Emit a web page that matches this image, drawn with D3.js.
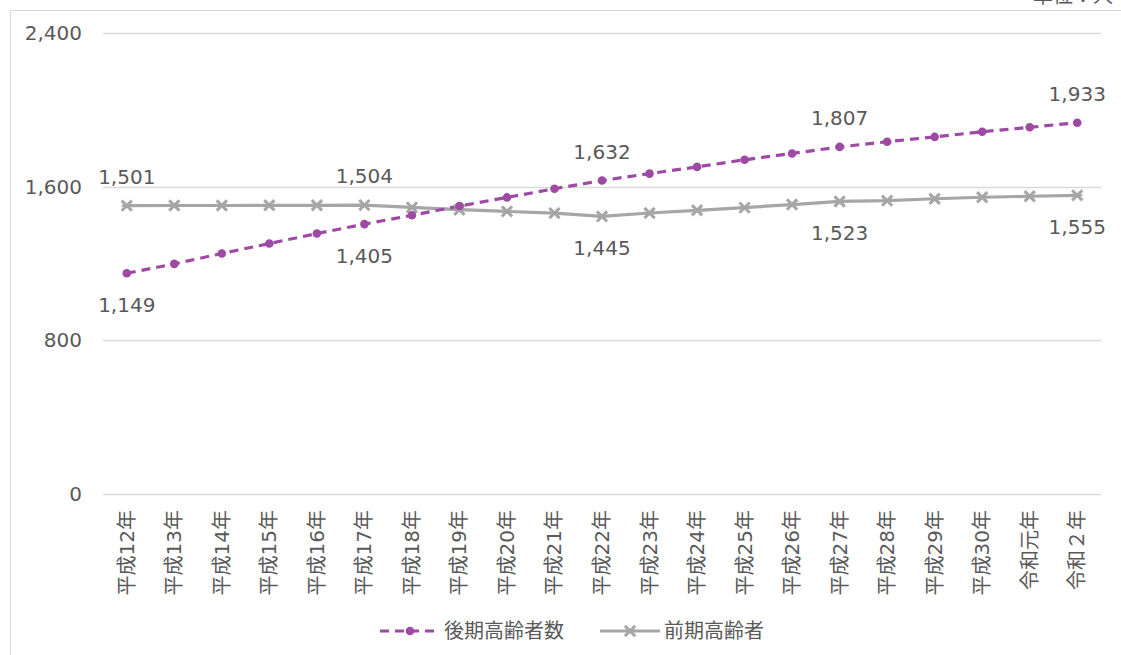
<!DOCTYPE html>
<html lang="ja">
<head>
<meta charset="utf-8">
<script src="https://cdn.jsdelivr.net/npm/d3@7"></script>
<style>
  html, body { margin: 0; padding: 0; background: #fff; }
  svg { display: block; font-family: "DejaVu Sans", "Noto Sans CJK JP", sans-serif; }
</style>
</head>
<body>
<svg id="chart" width="1121" height="655"></svg>
<script>
// 年度区分
const categories = ["平成12年","平成13年","平成14年","平成15年","平成16年","平成17年","平成18年",
  "平成19年","平成20年","平成21年","平成22年","平成23年","平成24年","平成25年","平成26年",
  "平成27年","平成28年","平成29年","平成30年","令和元年","令和２年"];

// 後期高齢者数（人）
const lateElderly = [1149, 1198, 1252, 1304, 1356, 1405, 1451, 1499, 1544, 1589, 1632,
  1668, 1703, 1740, 1773, 1807, 1834, 1859, 1886, 1909, 1933];

// 前期高齢者（人）
const earlyElderly = [1501, 1502, 1502, 1503, 1503, 1504, 1492, 1480, 1471, 1462, 1445,
  1463, 1477, 1491, 1507, 1523, 1527, 1537, 1545, 1550, 1555];

// 値ラベルを表示する位置
const labelIndex = [0, 5, 10, 15, 20];

const yTicks = [0, 800, 1600, 2400];
const seriesNames = ["後期高齢者数", "前期高齢者"];

const svg = d3.select("#chart");
const W = 1121, H = 655;
const plot = { left: 103, right: 1101, top: 33, bottom: 494 };

const textColor = "#595959";
const gridColor = "#d9d9d9";
const purple = "#9e4aa5";
const gray = "#a6a6a6";

// 外枠
svg.append("path")
  .attr("d", `M10.5,${H} V10.5 H${W}`)
  .attr("fill", "none").attr("stroke", gridColor).attr("stroke-width", 1);

// 単位
svg.append("text")
  .attr("x", 1113).attr("y", 3)
  .attr("text-anchor", "end")
  .attr("font-size", 20).attr("fill", textColor)
  .text("単位：人");

const x = d3.scaleBand().domain(categories).range([plot.left, plot.right]);
const y = d3.scaleLinear().domain([0, 2400]).range([plot.bottom, plot.top]);
const cx = c => x(c) + x.bandwidth() / 2;

// 目盛線
svg.append("g")
  .selectAll("line").data(yTicks).join("line")
  .attr("x1", plot.left).attr("x2", plot.right)
  .attr("y1", d => Math.round(y(d)) + 0.5).attr("y2", d => Math.round(y(d)) + 0.5)
  .attr("stroke", gridColor).attr("stroke-width", 1.3);

// 縦軸ラベル
const yAxis = d3.axisLeft(y).tickValues(yTicks).tickFormat(d3.format(",")).tickSize(0).tickPadding(0);
const gy = svg.append("g").attr("transform", "translate(82,0)").call(yAxis);
gy.select(".domain").remove();
gy.selectAll("text").attr("font-size", 20).attr("fill", textColor)
  .attr("font-family", "\"DejaVu Sans\", sans-serif");

// 横軸ラベル（縦書き回転）
svg.append("g")
  .selectAll("text").data(categories).join("text")
  .attr("transform", d => `translate(${cx(d)},510) rotate(-90)`)
  .attr("text-anchor", "end")
  .attr("dominant-baseline", "central")
  .attr("font-size", 20).attr("fill", textColor)
  .text(d => d);

// 折れ線
const line = d3.line().x((d, i) => cx(categories[i])).y(d => y(d));

svg.append("path").datum(earlyElderly)
  .attr("d", line).attr("fill", "none")
  .attr("stroke", gray).attr("stroke-width", 3.2).attr("stroke-linejoin", "round");

svg.append("path").datum(lateElderly)
  .attr("d", line).attr("fill", "none")
  .attr("stroke", purple).attr("stroke-width", 3.2)
  .attr("stroke-dasharray", "9,6");

// マーカー
const star = d3.symbol().type(d3.symbolX).size(70);
function starMarker(sel) {
  sel.append("path").attr("d", star()).attr("fill", "none")
    .attr("stroke", gray).attr("stroke-width", 3);
  sel.append("line").attr("x1", -5).attr("x2", 5).attr("y1", 0).attr("y2", 0)
    .attr("stroke", gray).attr("stroke-width", 2.2);
}

svg.append("g").selectAll("g").data(earlyElderly).join("g")
  .attr("transform", (d, i) => `translate(${cx(categories[i])},${y(d)})`)
  .call(starMarker);

svg.append("g").selectAll("circle").data(lateElderly).join("circle")
  .attr("cx", (d, i) => cx(categories[i])).attr("cy", d => y(d))
  .attr("r", 4.3).attr("fill", purple);

// 値ラベル：上側の系列は上、下側の系列は下へ
const fmt = d3.format(",");
const labels = svg.append("g").attr("font-size", 20).attr("fill", textColor)
  .attr("text-anchor", "middle").attr("dominant-baseline", "central")
  .attr("font-family", "\"DejaVu Sans\", sans-serif");
labelIndex.forEach(i => {
  const a = lateElderly[i], b = earlyElderly[i];
  const xi = cx(categories[i]);
  [[a, a >= b], [b, b > a]].forEach(([v, upper]) => {
    labels.append("text")
      .attr("x", xi)
      .attr("y", y(v) + (upper ? -29 : 32))
      .text(fmt(v));
  });
});

// 凡例
const legend = svg.append("g").attr("font-size", 20).attr("fill", textColor);
const lg1 = legend.append("g").attr("transform", "translate(380,631)");
lg1.append("line").attr("x1", 0).attr("x2", 60).attr("stroke", purple)
  .attr("stroke-width", 3.2).attr("stroke-dasharray", "9,6");
lg1.append("circle").attr("cx", 30).attr("r", 4.3).attr("fill", purple);
lg1.append("text").attr("x", 64).attr("dominant-baseline", "central").text(seriesNames[0]);

const lg2 = legend.append("g").attr("transform", "translate(600,631)");
lg2.append("line").attr("x1", 0).attr("x2", 60).attr("stroke", gray).attr("stroke-width", 3.2);
lg2.append("g").attr("transform", "translate(30,0)").call(starMarker);
lg2.append("text").attr("x", 64).attr("dominant-baseline", "central").text(seriesNames[1]);
</script>
</body>
</html>
